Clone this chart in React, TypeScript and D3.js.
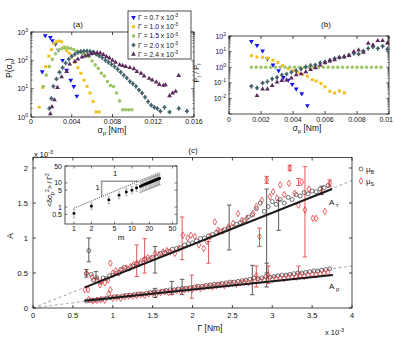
import React, { useEffect, useRef } from "react";
import * as d3 from "d3";

// ---------- panel (a): P(sigma_p), sigma_p in 1e-3 Nm ----------
const legendGamma = ["0.7", "1.0", "1.5", "2.0", "2.4"];
const seriesColors = ["#1414f2", "#f3c01e", "#9dc466", "#46636c", "#5b2b5d"];
const seriesMarkers = ["down", "square", "circle", "star", "up"];

const aBlueX = [1.1, 1.4, 1.9, 2.1, 2.4, 2.7, 3.1, 3.5, 3.9, 4.2, 4.5];
const aBlueY = [40, 750, 650, 500, 380, 230, 100, 45, 20, 12, 5.5];
const aYellowX = [0.8, 1.15, 1.45, 1.75, 2.0, 2.25, 2.5, 2.75, 3.0, 3.25, 3.5, 3.75, 4.0, 4.3, 4.6, 4.9, 5.2, 5.5, 5.8, 6.1, 6.4, 6.7];
const aYellowY = [2.2, 11, 60, 140, 240, 380, 450, 480, 450, 300, 220, 180, 130, 85, 55, 35, 20, 12, 7, 3.5, 1.5, 1.5];
const aGreenX = [1.2, 1.5, 1.8, 2.1, 2.4, 2.7, 3.0, 3.3, 3.6, 3.9, 4.2, 4.5, 4.8, 5.1, 5.4, 5.7, 6.0, 6.3, 6.6, 6.9, 7.2, 7.5, 7.8, 8.1, 8.4, 8.7, 9.0, 9.3, 9.6, 9.9];
const aGreenY = [12, 30, 60, 110, 170, 230, 260, 275, 275, 260, 240, 215, 195, 175, 160, 135, 95, 69, 52, 35, 28, 18, 13, 12, 7, 3.7, 1.8, 1.8, 1.8, 1.8];
const aSlateX = [1.8, 2.0, 2.2, 2.5, 2.8, 3.1, 3.4, 3.7, 4.0, 4.3, 4.6, 4.9, 5.2, 5.5, 5.8, 6.1, 6.4, 6.7, 7.0, 7.3, 7.6, 7.9, 8.2, 8.5, 8.8, 9.1, 9.4, 9.7, 10.0, 10.3, 10.6, 10.9, 11.2, 11.5, 11.8, 12.1, 12.4, 12.7, 13.1, 13.6, 14.5, 15.3];
const aSlateY = [2, 4.5, 12, 22, 38, 55, 80, 110, 140, 165, 190, 205, 210, 210, 205, 195, 165, 145, 125, 100, 85, 72, 60, 48, 38, 30, 24, 18, 15, 12, 9, 7, 5, 3.5, 2.6, 2.2, 2.0, 1.6, 2.2, 1.5, 2, 1.6];
const aPurpleX = [1.9, 2.05, 2.3, 2.6, 3.0, 3.5, 3.8, 4.3, 4.6, 5.0, 5.3, 5.6, 5.9, 6.2, 6.5, 6.8, 7.1, 7.4, 7.7, 8.0, 8.3, 8.7, 9.0, 9.3, 9.7, 10.1, 10.4, 10.8, 11.1, 11.6, 11.9, 12.3, 12.6, 13.0, 13.2, 13.6, 13.9, 14.2, 14.5];
const aPurpleY = [1.3, 2.3, 4, 11, 26, 40, 73, 90, 110, 130, 140, 150, 170, 180, 185, 180, 160, 135, 120, 100, 85, 69, 65, 60, 55, 50, 40, 35, 28, 23, 20, 17, 14, 13, 13.5, 5.6, 7, 8, 29];

// ---------- panel (b): P_i / P_l ----------
const bBlueX = [1.4, 1.75, 2.1, 2.4, 2.75, 3.1, 3.4, 3.7, 3.95, 4.2, 4.55, 4.9];
const bBlueY = [45, 25, 11, 3.5, 1.4, 0.6, 0.22, 0.15, 0.08, 0.04, 0.02, 0.0035];
const bYellowX = [1.4, 1.75, 2.1, 2.4, 2.75, 3.05, 3.35, 3.7, 4.0, 4.3, 4.6, 4.9, 5.2, 5.45, 5.75, 6.0, 6.3, 6.6, 6.9, 7.2];
const bYellowY = [5.5, 4.5, 4.3, 3.8, 2.8, 2.0, 1.3, 0.8, 0.6, 0.45, 0.35, 0.26, 0.16, 0.13, 0.09, 0.055, 0.028, 0.022, 0.03, 0.023];
const bGreenX = [1.4, 1.7, 2.0, 2.3, 2.6, 2.9, 3.2, 3.5, 3.8, 4.1, 4.4, 4.7, 5.0, 5.3, 5.6, 5.9, 6.2, 6.5, 6.8, 7.1, 7.4, 7.7, 8.0, 8.3, 8.6, 8.9, 9.2, 9.5];
const bGreenY = [1, 1, 1, 1, 1, 1, 1, 1, 1, 1, 1, 1, 1, 1, 1, 1, 1, 1, 1, 1, 1, 1, 1, 1, 1, 1, 1, 1];
const bSlateX = [1.4, 1.75, 2.1, 2.4, 2.7, 3.0, 3.3, 3.6, 3.9, 4.2, 4.5, 4.8, 5.1, 5.4, 5.7, 6.0, 6.3, 6.6, 6.9, 7.2, 7.5, 7.8, 8.1, 8.4, 8.7, 9.0, 9.3, 9.6, 9.9];
const bSlateY = [0.06, 0.047, 0.097, 0.12, 0.18, 0.22, 0.32, 0.37, 0.48, 0.6, 0.78, 1.05, 1.3, 1.4, 1.9, 2.2, 2.8, 3.6, 4.2, 4.6, 6, 7.6, 7, 11, 16, 20, 16, 22, 14];
const bPurpleX = [1.75, 2.1, 2.4, 2.7, 3.0, 3.3, 3.6, 3.9, 4.2, 4.5, 4.8, 5.1, 5.4, 5.7, 6.0, 6.3, 6.6, 6.9, 7.2, 7.5, 7.8, 8.1, 8.4, 8.7, 9.0, 9.3, 9.6, 9.9];
const bPurpleY = [0.015, 0.04, 0.04, 0.066, 0.11, 0.14, 0.15, 0.2, 0.32, 0.37, 0.5, 0.7, 0.9, 1.35, 1.9, 2.5, 3, 4.2, 4.6, 5.5, 9.8, 12.5, 9, 34, 26, 50, 50, 35];

// ---------- panel (c): A vs Gamma (both in 1e-3) ----------
const tauBG = [0.67, 0.70, 0.73, 0.76, 0.80, 0.84, 0.88, 0.92, 0.96, 1.00, 1.05, 1.10, 1.15, 1.20, 1.25, 1.30, 1.35, 1.40, 1.45, 1.50, 1.55, 1.60, 1.65, 1.70, 1.75, 1.80, 1.85, 1.90, 1.95, 2.00, 2.05, 2.10, 2.15, 2.20, 2.25, 2.30, 2.35, 2.40, 2.45, 2.50, 2.55, 2.60, 2.65, 2.70, 2.75, 2.80, 2.85, 2.90, 2.95, 3.00, 3.05, 3.10, 3.15, 3.20, 3.25, 3.30, 3.35, 3.40, 3.45, 3.50, 3.55, 3.60, 3.65, 3.70];
const tauBA = [0.49, 0.82, 0.48, 0.40, 0.43, 0.37, 0.43, 0.42, 0.46, 0.47, 0.50, 0.55, 0.58, 0.56, 0.60, 0.63, 0.64, 0.70, 0.69, 0.72, 0.73, 0.78, 0.79, 0.81, 0.84, 0.85, 0.86, 0.90, 0.92, 0.93, 0.96, 0.99, 1.00, 1.03, 1.05, 1.08, 1.10, 1.12, 1.14, 1.16, 1.20, 1.22, 1.25, 1.30, 1.33, 1.42, 1.50, 1.38, 1.45, 1.52, 1.48, 1.55, 1.50, 1.58, 1.55, 1.62, 1.60, 1.65, 1.63, 1.67, 1.66, 1.70, 1.72, 1.75];
const tauSG = [0.65, 0.69, 0.67, 0.74, 0.80, 0.84, 0.86, 0.90, 0.94, 0.97, 1.00, 1.04, 1.08, 1.12, 1.17, 1.22, 1.26, 1.30, 1.35, 1.40, 1.44, 1.48, 1.53, 1.58, 1.63, 1.68, 1.72, 1.78, 1.83, 1.88, 1.94, 1.98, 2.03, 2.08, 2.14, 2.18, 2.22, 2.28, 2.32, 2.38, 2.45, 2.51, 2.57, 2.62, 2.68, 2.76, 2.80, 2.84, 2.87, 2.93, 2.97, 3.01, 3.06, 3.10, 3.15, 3.21, 3.22, 3.28, 3.33, 3.37, 3.41, 3.46, 3.51, 3.55, 3.62, 3.66, 3.72];
const tauSA = [0.26, 0.26, 0.50, 0.44, 0.40, 0.33, 0.38, 0.36, 0.40, 0.64, 0.50, 0.53, 0.50, 0.55, 0.57, 0.59, 0.62, 0.64, 0.66, 0.69, 0.72, 0.71, 0.78, 0.76, 0.80, 0.82, 0.80, 0.78, 0.85, 1.04, 1.00, 1.04, 1.02, 0.90, 0.85, 0.95, 1.02, 1.23, 1.11, 1.10, 1.16, 1.21, 1.35, 1.25, 1.28, 1.35, 1.45, 1.02, 1.54, 1.83, 1.59, 1.66, 1.57, 1.76, 1.62, 1.78, 2.00, 1.64, 1.47, 1.80, 1.40, 1.70, 1.28, 1.28, 1.66, 1.38, 1.78];
const pBG = [0.67, 0.72, 0.77, 0.82, 0.87, 0.92, 0.97, 1.02, 1.07, 1.12, 1.17, 1.22, 1.27, 1.32, 1.37, 1.42, 1.47, 1.52, 1.57, 1.62, 1.67, 1.72, 1.77, 1.82, 1.87, 1.92, 1.97, 2.02, 2.07, 2.12, 2.17, 2.22, 2.27, 2.32, 2.37, 2.42, 2.47, 2.52, 2.57, 2.62, 2.67, 2.72, 2.77, 2.82, 2.87, 2.92, 2.97, 3.02, 3.07, 3.12, 3.17, 3.22, 3.27, 3.32, 3.37, 3.42, 3.47, 3.52, 3.57, 3.62, 3.67, 3.72];
const pBA = [0.10, 0.11, 0.11, 0.12, 0.13, 0.14, 0.15, 0.16, 0.16, 0.17, 0.18, 0.18, 0.19, 0.20, 0.20, 0.21, 0.22, 0.23, 0.23, 0.24, 0.25, 0.26, 0.26, 0.27, 0.28, 0.28, 0.29, 0.30, 0.31, 0.31, 0.32, 0.33, 0.34, 0.34, 0.35, 0.36, 0.37, 0.37, 0.38, 0.39, 0.40, 0.41, 0.43, 0.42, 0.43, 0.45, 0.44, 0.45, 0.46, 0.47, 0.47, 0.48, 0.49, 0.50, 0.50, 0.51, 0.52, 0.53, 0.53, 0.54, 0.55, 0.56];
const pSG = [0.70, 0.75, 0.80, 0.85, 0.90, 0.95, 0.97, 1.00, 1.05, 1.10, 1.15, 1.20, 1.25, 1.30, 1.35, 1.40, 1.45, 1.50, 1.55, 1.60, 1.65, 1.70, 1.75, 1.80, 1.85, 1.90, 1.95, 2.00, 2.05, 2.10, 2.15, 2.20, 2.25, 2.30, 2.35, 2.40, 2.45, 2.50, 2.55, 2.60, 2.65, 2.70, 2.75, 2.80, 2.85, 2.90, 2.95, 3.00, 3.05, 3.10, 3.15, 3.20, 3.25, 3.30, 3.35, 3.40, 3.45, 3.50, 3.55, 3.60, 3.65, 3.70];
const pSA = [0.12, 0.10, 0.11, 0.12, 0.11, 0.20, 0.26, 0.14, 0.15, 0.14, 0.16, 0.17, 0.17, 0.18, 0.19, 0.18, 0.20, 0.21, 0.20, 0.22, 0.23, 0.22, 0.24, 0.25, 0.24, 0.26, 0.27, 0.27, 0.29, 0.28, 0.30, 0.31, 0.30, 0.32, 0.33, 0.32, 0.34, 0.35, 0.34, 0.36, 0.37, 0.36, 0.38, 0.46, 0.39, 0.40, 0.47, 0.41, 0.42, 0.43, 0.42, 0.44, 0.45, 0.44, 0.46, 0.45, 0.47, 0.48, 0.47, 0.49, 0.50, 0.51];

// error bars: [Gamma, low, high]
const tauBErr = [[0.67, 0.44, 0.55], [0.70, 0.66, 1.0], [0.79, 0.42, 0.52], [1.53, 0.50, 0.88], [2.46, 0.83, 1.47], [2.93, 0.5, 1.7], [3.08, 1.11, 1.54], [3.62, 1.62, 1.74]];
const tauSErr = [[1.30, 0.45, 0.90], [1.40, 0.50, 0.99], [1.87, 0.69, 1.30], [2.20, 0.64, 0.95], [2.84, 0.88, 1.14], [2.93, 1.78, 1.88], [3.22, 1.96, 2.04], [3.33, 1.75, 1.85], [3.41, 0.73, 2.02], [3.72, 1.73, 1.83]];
const pBErr = [[1.53, 0.15, 0.28], [1.74, 0.19, 0.38], [1.87, 0.19, 0.41], [2.75, 0.19, 0.61], [2.93, 0.30, 0.64]];
const pSErr = [[1.99, 0.14, 0.47], [2.80, 0.30, 0.60], [2.95, 0.35, 0.60], [3.33, 0.43, 0.60]];

const tauFit = [[0.65, 0.295], [3.75, 1.70]];
const pFit = [[0.65, 0.105], [3.76, 0.47]];
const tauGuide = [[0, 0], [4, 1.82]];
const pGuide = [[0, 0], [4, 0.6]];

// ---------- inset ----------
const insetM = [1, 2, 4, 6, 8, 10, 12, 14, 15, 16, 17, 18, 19, 20, 21, 22, 23, 24, 25, 26, 27, 28, 29, 30];
const insetV = [0.55, 1.1, 2.0, 3.1, 4.2, 5.0, 6.2, 7.2, 7.8, 8.4, 8.9, 9.4, 9.9, 10.4, 10.9, 11.4, 11.9, 12.4, 12.9, 13.4, 13.9, 14.4, 14.9, 15.5];
const insetLo = [0.36, 0.8, 1.4, 2.2, 3.0, 3.6, 4.4, 4.0, 4.3, 4.6, 4.9, 5.2, 5.4, 5.7, 6.0, 6.3, 6.5, 6.8, 7.1, 7.4, 7.6, 7.9, 8.2, 8.5];
const insetHi = [0.8, 1.5, 2.8, 4.3, 5.8, 7.0, 8.6, 10.8, 11.7, 12.6, 13.4, 14.1, 14.9, 15.6, 16.4, 17.1, 17.9, 18.6, 19.4, 20.1, 20.9, 21.6, 22.4, 23.3];
const insetSlope = [[1, 0.9], [30, 27]];
const insetTriangle = [[3, 2.7], [3, 11.8], [12.8, 11.8]];

const FONT = "'Liberation Sans', Arial, Helvetica, sans-serif";

const App = () => {
  const svgRef = useRef<SVGSVGElement>(null);

  useEffect(() => {
    const svg = d3.select(svgRef.current);
    svg.selectAll("*").remove();

    const text = (g, x, y, size, anchor = "middle") =>
      g.append("text").attr("x", x).attr("y", y).attr("font-size", size)
        .attr("text-anchor", anchor).attr("fill", "#111");
    const part = (t, s, dy = 0, size = null) => {
      const ts = t.append("tspan").text(s);
      if (dy) ts.attr("dy", dy);
      if (size) ts.attr("font-size", size);
      return ts;
    };
    const pow10 = (g, x, y, exp, size = 7) => {
      const t = text(g, x, y, size, "end");
      part(t, "10");
      part(t, exp, -3, size * 0.72);
    };
    const line = (g, x1, y1, x2, y2, color = "#000", w = 0.7) =>
      g.append("line").attr("x1", x1).attr("y1", y1).attr("x2", x2).attr("y2", y2)
        .attr("stroke", color).attr("stroke-width", w);

    const marker = (g, kind, x, y, color) => {
      const t = `translate(${x},${y})`;
      if (kind === "down" || kind === "up") {
        g.append("path").attr("d", d3.symbol().type(d3.symbolTriangle).size(10)())
          .attr("transform", kind === "down" ? `${t} rotate(180)` : t).attr("fill", color);
      } else if (kind === "square") {
        g.append("path").attr("d", d3.symbol().type(d3.symbolSquare).size(9)())
          .attr("transform", t).attr("fill", color);
      } else if (kind === "circle") {
        g.append("path").attr("d", d3.symbol().type(d3.symbolCircle).size(10)())
          .attr("transform", t).attr("fill", color);
      } else {
        g.append("path").attr("d", d3.symbol().type(d3.symbolDiamond).size(8)())
          .attr("transform", t).attr("fill", color);
        g.append("path").attr("d", d3.symbol().type(d3.symbolCross).size(9)())
          .attr("transform", t).attr("fill", color);
      }
    };

    const boxFrame = (g, xs, ys, fill = "none") => {
      const [x0, x1] = xs.range();
      const [yb, yt] = ys.range();
      g.append("rect").attr("x", x0).attr("y", yt).attr("width", x1 - x0)
        .attr("height", yb - yt).attr("fill", fill).attr("stroke", "#000").attr("stroke-width", 0.7);
    };

    const linTicksX = (g, xs, ys, vals, labels, labelY, len = 3, size = 7) => {
      const [yb, yt] = ys.range();
      const [, xmax] = xs.range();
      vals.forEach((v, i) => {
        const x = xs(v);
        line(g, x, yb, x, yb - len);
        line(g, x, yt, x, yt + len);
        if (labels) {
          // the last label of a panel sitting at the page edge is right-aligned
          const atEdge = x === xmax && x > 385;
          text(g, atEdge ? 393 : x, labelY, size, atEdge ? "end" : "middle").text(labels[i]);
        }
      });
    };
    const linTicksY = (g, xs, ys, vals, labels, labelX, len = 3, size = 7) => {
      const [x0, x1] = xs.range();
      vals.forEach((v, i) => {
        const y = ys(v);
        line(g, x0, y, x0 + len, y);
        line(g, x1, y, x1 - len, y);
        if (labels) text(g, labelX, y + 2.5, size, "end").text(labels[i]);
      });
    };
    const logTicksY = (g, xs, ys, labelX, withLabels = true) => {
      const [x0, x1] = xs.range();
      const [lo, hi] = ys.domain();
      for (let e = Math.floor(Math.log10(lo)); e <= Math.ceil(Math.log10(hi)); e++) {
        for (let d = 1; d < 10; d++) {
          const v = d * Math.pow(10, e);
          if (v < lo * 0.999 || v > hi * 1.001) continue;
          const len = d === 1 ? 3 : 1.6;
          const y = ys(v);
          line(g, x0, y, x0 + len, y, "#000", 0.5);
          line(g, x1, y, x1 - len, y, "#000", 0.5);
          if (d === 1 && withLabels) pow10(g, labelX, y + 2.5, String(e));
        }
      }
    };

    // ================= panel (a) =================
    const xa = d3.scaleLinear().domain([0, 16]).range([31, 194]);
    const ya = d3.scaleLog().domain([1, 1000]).range([117, 32]);
    const ga = svg.append("g");
    const aSeries = [[aBlueX, aBlueY], [aYellowX, aYellowY], [aGreenX, aGreenY], [aSlateX, aSlateY], [aPurpleX, aPurpleY]];
    aSeries.forEach(([xs, ys], k) => {
      xs.forEach((v, i) => marker(ga, seriesMarkers[k], xa(v), ya(ys[i]), seriesColors[k]));
    });
    boxFrame(ga, xa, ya);
    linTicksX(ga, xa, ya, [0, 4, 8, 12, 16], ["0", "0.004", "0.008", "0.012", "0.016"], 124);
    logTicksY(ga, xa, ya, 28);
    const ta = text(ga, 112, 133, 8.5);
    part(ta, "σ"); part(ta, "p", 2, 6); part(ta, " [Nm]", -2);
    const yla = text(ga, 0, 0, 8.5).attr("transform", "translate(12,68) rotate(-90)");
    part(yla, "P(σ"); part(yla, "p", 2, 6); part(yla, ")", -2);
    text(ga, 78, 27, 8).text("(a)");

    // legend
    ga.append("rect").attr("x", 128).attr("y", 11).attr("width", 63).attr("height", 48)
      .attr("fill", "#fff").attr("stroke", "#000").attr("stroke-width", 0.7);
    legendGamma.forEach((gm, i) => {
      const y = 17.5 + i * 9.2;
      marker(ga, seriesMarkers[i], 133.5, y, seriesColors[i]);
      const t = text(ga, 138, y + 2.5, 6.8, "start");
      part(t, `Γ = ${gm} x 10`);
      part(t, "-3", -2.8, 5);
    });

    // ================= panel (b) =================
    const xb = d3.scaleLinear().domain([0, 10]).range([229, 389]);
    const yb = d3.scaleLog().domain([1e-3, 1e2]).range([114, 36]);
    const gb = svg.append("g");
    const bSeries = [[bBlueX, bBlueY], [bYellowX, bYellowY], [bGreenX, bGreenY], [bSlateX, bSlateY], [bPurpleX, bPurpleY]];
    bSeries.forEach(([xs, ys], k) => {
      xs.forEach((v, i) => marker(gb, seriesMarkers[k], xb(v), yb(ys[i]), seriesColors[k]));
    });
    boxFrame(gb, xb, yb);
    linTicksX(gb, xb, yb, [0, 2, 4, 6, 8, 10], ["0", "0.002", "0.004", "0.006", "0.008", "0.01"], 122);
    logTicksY(gb, xb, yb, 226, false);
    [-2, -1, 0, 1, 2].forEach((e) => pow10(gb, 226, yb(Math.pow(10, e)) + 2.5, String(e)));
    const tb = text(gb, 307, 131, 8.5);
    part(tb, "σ"); part(tb, "p", 2, 6); part(tb, " [Nm]", -2);
    const ylb = text(gb, 0, 0, 7.5).attr("transform", "translate(199,73) rotate(-90)");
    part(ylb, "P"); part(ylb, "i", 2, 5.5); part(ylb, " / P", -2); part(ylb, "l", 2, 5.5);
    text(gb, 326, 27, 8).text("(b)");

    // ================= panel (c) =================
    const xc = d3.scaleLinear().domain([0, 4]).range([33, 352]);
    const yc = d3.scaleLinear().domain([0, 2.15]).range([308, 157.5]);
    const gc = svg.append("g");
    const path = d3.line().x((d) => xc(d[0])).y((d) => yc(d[1]));
    [tauGuide, pGuide].forEach((d) =>
      gc.append("path").attr("d", path(d)).attr("fill", "none").attr("stroke", "#b0b0b0")
        .attr("stroke-width", 1.1).attr("stroke-dasharray", "3,2.5"));

    const errBars = (rows, color) => rows.forEach(([g, lo, hi]) => {
      const x = xc(g);
      line(gc, x, yc(lo), x, yc(hi), color, 1);
      line(gc, x - 2.2, yc(lo), x + 2.2, yc(lo), color, 1);
      line(gc, x - 2.2, yc(hi), x + 2.2, yc(hi), color, 1);
    });
    errBars(tauBErr, "#5a5a5a");
    errBars(pBErr, "#5a5a5a");
    errBars(tauSErr, "#e35a5a");
    errBars(pSErr, "#e35a5a");

    const circ = (gs, as) => gs.forEach((g, i) =>
      gc.append("circle").attr("cx", xc(g)).attr("cy", yc(as[i])).attr("r", 2)
        .attr("fill", "none").attr("stroke", "#3a3a3a").attr("stroke-width", 0.7));
    const diam = (gs, as) => gs.forEach((g, i) =>
      gc.append("path").attr("d", d3.symbol().type(d3.symbolDiamond).size(12)())
        .attr("transform", `translate(${xc(g)},${yc(as[i])})`)
        .attr("fill", "none").attr("stroke", "#e2262b").attr("stroke-width", 0.7));
    circ(tauBG, tauBA);
    circ(pBG, pBA);
    diam(tauSG, tauSA);
    diam(pSG, pSA);

    [tauFit, pFit].forEach((d) =>
      gc.append("path").attr("d", path(d)).attr("fill", "none").attr("stroke", "#1a1a1a").attr("stroke-width", 2));

    boxFrame(gc, xc, yc);
    linTicksX(gc, xc, yc, [0, 0.5, 1, 1.5, 2, 2.5, 3, 3.5, 4], ["0", "0.5", "1", "1.5", "2", "2.5", "3", "3.5", "4"], 318, 3, 7.5);
    linTicksY(gc, xc, yc, [0, 0.5, 1, 1.5, 2], ["0", "0.5", "1", "1.5", "2"], 28, 3, 7.5);
    const e1 = text(gc, 34, 157, 7.5, "start");
    part(e1, "x 10"); part(e1, "-3", -3, 5.5);
    const e2 = text(gc, 325, 335, 7.5, "start");
    part(e2, "x 10"); part(e2, "-3", -3, 5.5);
    text(gc, 210, 331, 8.5).text("Γ [Nm]");
    text(gc, 0, 0, 8.5).attr("transform", "translate(13,236) rotate(-90)").text("A");
    text(gc, 193, 153, 8).text("(c)");
    const at = text(gc, 329, 205, 8, "start");
    part(at, "A"); part(at, " τ", 2, 6);
    const ap = text(gc, 329, 289, 8, "start");
    part(ap, "A"); part(ap, " p", 2, 6);

    // legend (c)
    gc.append("circle").attr("cx", 361).attr("cy", 169).attr("r", 2)
      .attr("fill", "none").attr("stroke", "#3a3a3a").attr("stroke-width", 0.7);
    gc.append("path").attr("d", d3.symbol().type(d3.symbolDiamond).size(12)())
      .attr("transform", "translate(361,181)").attr("fill", "none").attr("stroke", "#e2262b").attr("stroke-width", 0.7);
    const lb = text(gc, 366, 171.5, 8, "start");
    part(lb, "μ"); part(lb, "B", 2, 5.5);
    const ls = text(gc, 366, 183.5, 8, "start");
    part(ls, "μ"); part(ls, "S", 2, 5.5);

    // ================= inset =================
    const xi = d3.scaleLog().domain([0.7, 60]).range([65, 177]);
    const yi = d3.scaleLog().domain([0.2, 50]).range([224, 166]);
    const gi = svg.append("g");
    boxFrame(gi, xi, yi, "#fff");
    const ipath = d3.line().x((d) => xi(d[0])).y((d) => yi(d[1]));
    gi.append("path").attr("d", ipath(insetTriangle)).attr("fill", "none")
      .attr("stroke", "#9a9a9a").attr("stroke-width", 1.5);
    insetM.forEach((m, i) => {
      const x = xi(m);
      line(gi, x, yi(insetLo[i]), x, yi(insetHi[i]), "#8a8a8a", 0.6);
      line(gi, x - 1.3, yi(insetLo[i]), x + 1.3, yi(insetLo[i]), "#8a8a8a", 0.6);
      line(gi, x - 1.3, yi(insetHi[i]), x + 1.3, yi(insetHi[i]), "#8a8a8a", 0.6);
    });
    gi.append("path").attr("d", ipath(insetSlope)).attr("fill", "none")
      .attr("stroke", "#000").attr("stroke-width", 0.8).attr("stroke-dasharray", "0.9,1.2");
    insetM.forEach((m, i) =>
      gi.append("rect").attr("x", xi(m) - 1.3).attr("y", yi(insetV[i]) - 1.3)
        .attr("width", 2.6).attr("height", 2.6).attr("fill", "#000"));
    text(gi, 115, 176, 7.5).text("1");
    text(gi, 97.5, 190, 7.5).text("1");
    const [iy0, iy1] = yi.range();
    const [ix0, ix1] = xi.range();
    [1, 2, 5, 10, 20, 50].forEach((m) => {
      const x = xi(m);
      line(gi, x, iy0, x, iy0 - 2.5, "#000", 0.5);
      line(gi, x, iy1, x, iy1 + 2.5, "#000", 0.5);
      text(gi, x, 231, 7).text(String(m));
    });
    [0.5, 1, 5, 10, 50].forEach((v) => {
      const y = yi(v);
      line(gi, ix0, y, ix0 + 2.5, y, "#000", 0.5);
      line(gi, ix1, y, ix1 - 2.5, y, "#000", 0.5);
      text(gi, 62, y + 2.5, 7, "end").text(String(v));
    });
    text(gi, 121, 240, 8).text("m");
    const yli = text(gi, 0, 0, 6.8).attr("transform", "translate(52,190) rotate(-90)");
    part(yli, "<δσ"); part(yli, "p", 2, 5); part(yli, "2", -5, 5); part(yli, "> / Γ", 3); part(yli, "2", -3, 5);
  }, []);

  return (
    <svg
      ref={svgRef}
      width={394}
      height={342}
      viewBox="0 0 394 342"
      style={{ position: "absolute", left: 0, top: 0, background: "#fff", fontFamily: FONT }}
    ></svg>
  );
};

export default App;
